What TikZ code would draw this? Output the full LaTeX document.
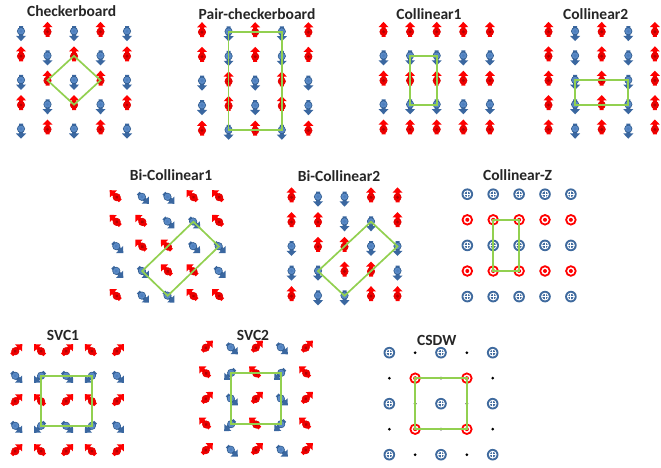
\documentclass[tikz,border=0pt]{standalone}
\usepackage{fontspec}
\setmainfont{Carlito}
\definecolor{rdbody}{HTML}{FF0000}
\definecolor{rdcirc}{HTML}{F00000}
\definecolor{rdedge}{HTML}{E00000}
\definecolor{rddot}{HTML}{B40000}
\definecolor{blbody}{HTML}{3A67A0}
\definecolor{blcirc}{HTML}{5A8AC6}
\definecolor{bledge}{HTML}{2F5A8C}
\definecolor{bldot}{HTML}{4E7FBE}
\definecolor{zblue}{HTML}{3F6A9E}
\definecolor{framegreen}{HTML}{92D050}
\definecolor{titlegray}{HTML}{262626}

\newcommand\arrowglyph[4]{%
  \begin{scope}[shift={(#1,#2)},rotate=#3]
    \fill[#4body] (0,-9.6) -- (5,-4.4) -- (2,-4.4) -- (2,5.4) -- (-2,5.4) -- (-2,-4.4) -- (-5,-4.4) -- cycle;
    \filldraw[fill=#4circ,draw=#4edge,line width=0.6pt] (0,0.3) circle (3.7);
    \fill[#4dot] (0,0.3) circle (1.7);
  \end{scope}}
\newcommand\glyphU[2]{\arrowglyph{#1}{#2}{0}{rd}}
\newcommand\glyphD[2]{\arrowglyph{#1}{#2}{180}{bl}}
\newcommand\glyphA[2]{\arrowglyph{#1}{#2}{45}{rd}}
\newcommand\glyphE[2]{\arrowglyph{#1}{#2}{-45}{rd}}
\newcommand\glyphB[2]{\arrowglyph{#1}{#2}{-135}{bl}}
\newcommand\glyphW[2]{\arrowglyph{#1}{#2}{135}{bl}}
\newcommand\glyphP[2]{%
  \begin{scope}[shift={(#1,#2)}]
    \fill[zblue] (0,0) circle (5.8);
    \draw[white,line width=0.9pt] (0,0) circle (3.4);
    \draw[white,line width=0.9pt] (-3.4,0) -- (3.4,0) (0,-3.4) -- (0,3.4);
  \end{scope}}
\newcommand\glyphO[2]{%
  \begin{scope}[shift={(#1,#2)}]
    \draw[red,line width=1.8pt] (0,0) circle (4.8);
    \fill[red] (0,0) circle (2);
  \end{scope}}
\newcommand\glyphK[2]{\fill[black] (#1,#2) circle (1.5);}

\newcommand\sitegrid[6]{%
  \foreach \rowlist [count=\jj from 0] in {#6} {
    \foreach \code [count=\ii from 0] in \rowlist {
      \coordinate (#1-\ii-\jj) at ({#2+\ii*#4},{#3+\jj*#5});
      \csname glyph\code\endcsname{#2+\ii*#4}{#3+\jj*#5}
    }}}

\tikzset{
  ttl/.style={font=\fontsize{15.5}{18}\selectfont\bfseries, text=titlegray, inner sep=0pt, anchor=base},
  gframe/.style={draw=framegreen, line width=1.7pt, line join=miter}
}

\begin{document}
\begin{tikzpicture}[x=1pt,y=-1pt]
\useasboundingbox (0,0) rectangle (661,468);
\fill[white] (0,0) rectangle (661,468);

% Titles
\node[ttl] (t1) at (71.7,16.7) {Checkerboard};
\node[ttl] (t2) at (257,20) {Pair-checkerboard};
\node[ttl] (t3) at (429,19.3) {Collinear1};
\node[ttl] (t4) at (595.7,20) {Collinear2};
\node[ttl] (t5) at (171,180) {Bi-Collinear1};
\node[ttl] (t6) at (339,181.5) {Bi-Collinear2};
\node[ttl] (t7) at (517.5,180) {Collinear-Z};
\node[ttl] (t8) at (63,340) {SVC1};
\node[ttl] (t9) at (253,340) {SVC2};
\node[ttl] (t10) at (436.7,345) {CSDW};

% Checkerboard
\sitegrid{cb}{21}{31.5}{26.5}{24.4}{{D,U,D,U,D},{U,D,U,D,U},{D,U,D,U,D},{U,D,U,D,U},{D,U,D,U,D}}
\draw[gframe] (cb-2-1) -- (cb-3-2) -- (cb-2-3) -- (cb-1-2) -- cycle;

% Pair-checkerboard
\sitegrid{pc}{202}{31.8}{26.6}{24.6}{{U,D,U,D,U},{U,D,U,D,U},{D,U,D,U,D},{D,U,D,U,D},{U,D,U,D,U}}
\draw[gframe] (pc-1-0) -- (pc-3-0) -- (pc-3-4) -- (pc-1-4) -- cycle;

% Collinear1
\sitegrid{ca}{383.5}{31.5}{26.6}{24.4}{{U,U,U,U,U},{D,D,D,D,D},{U,U,U,U,U},{D,D,D,D,D},{U,U,U,U,U}}
\draw[gframe] (ca-1-1) -- (ca-2-1) -- (ca-2-3) -- (ca-1-3) -- cycle;

% Collinear2
\sitegrid{cc}{548.5}{31.5}{26.6}{24.4}{{U,D,U,D,U},{U,D,U,D,U},{U,D,U,D,U},{U,D,U,D,U},{U,D,U,D,U}}
\draw[gframe] (cc-1-2) -- (cc-3-2) -- (cc-3-3) -- (cc-1-3) -- cycle;

% Bi-Collinear1
\sitegrid{ba}{116.5}{197}{25.6}{24.7}{{A,B,B,A,A},{A,A,B,B,A},{B,A,A,B,B},{B,B,A,A,B},{A,B,B,A,A}}
\draw[gframe] (ba-3-1) -- (ba-4-2) -- (ba-2-4) -- (ba-1-3) -- cycle;

% Bi-Collinear2
\sitegrid{bb}{291.5}{197}{26.5}{24.7}{{U,D,D,U,U},{U,U,D,D,U},{D,U,U,D,D},{D,D,U,U,D},{U,D,D,U,U}}
\draw[gframe] (bb-3-1) -- (bb-4-2) -- (bb-2-4) -- (bb-1-3) -- cycle;

% Collinear-Z
\sitegrid{cz}{467.3}{194.2}{25.9}{25.6}{{P,P,P,P,P},{O,O,O,O,O},{P,P,P,P,P},{O,O,O,O,O},{P,P,P,P,P}}
\draw[gframe] (cz-1-1) -- (cz-2-1) -- (cz-2-3) -- (cz-1-3) -- cycle;

% SVC1
\sitegrid{sa}{15.5}{351}{25.4}{25}{{E,A,E,A,E},{B,W,B,W,B},{E,A,E,A,E},{B,W,B,W,B},{E,A,E,A,E}}
\draw[gframe] (sa-1-1) -- (sa-3-1) -- (sa-3-3) -- (sa-1-3) -- cycle;

% SVC2
\sitegrid{sb}{206}{347.5}{25}{25.6}{{E,B,E,B,E},{A,W,A,W,A},{E,B,E,B,E},{A,W,A,W,A},{E,B,E,B,E}}
\draw[gframe] (sb-1-1) -- (sb-3-1) -- (sb-3-3) -- (sb-1-3) -- cycle;

% CSDW
\sitegrid{cs}{389.3}{352.7}{25.85}{25.5}{{P,K,P,K,P},{K,O,K,O,K},{P,K,P,K,P},{K,O,K,O,K},{P,K,P,K,P}}
\draw[gframe] (cs-1-1) -- (cs-3-1) -- (cs-3-3) -- (cs-1-3) -- cycle;
\end{tikzpicture}
\end{document}
